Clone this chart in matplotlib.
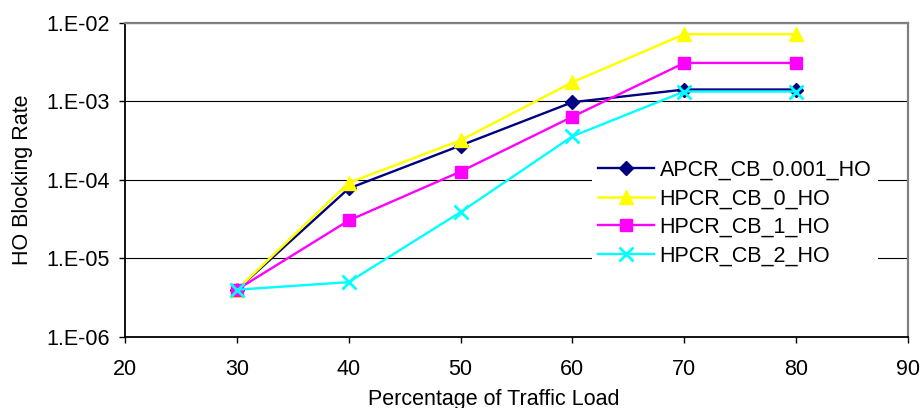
import matplotlib
matplotlib.use("Agg")
import matplotlib.pyplot as plt
import numpy as np

plt.rcParams['font.family'] = ['Liberation Sans', 'DejaVu Sans']

# data
load = [30, 40, 50, 60, 70, 80]
apcr_cb_0001 = [4.0e-6, 7.8e-5, 2.75e-4, 9.8e-4, 1.42e-3, 1.42e-3]
hpcr_cb_0 = [4.0e-6, 9.2e-5, 3.2e-4, 1.76e-3, 7.2e-3, 7.2e-3]
hpcr_cb_1 = [4.0e-6, 3.05e-5, 1.28e-4, 6.4e-4, 3.1e-3, 3.1e-3]
hpcr_cb_2 = [4.0e-6, 5.0e-6, 3.9e-5, 3.6e-4, 1.34e-3, 1.34e-3]

xticks = [20, 30, 40, 50, 60, 70, 80, 90]
yticks = [1e-6, 1e-5, 1e-4, 1e-3, 1e-2]
ytick_labels = ["1.E-06", "1.E-05", "1.E-04", "1.E-03", "1.E-02"]

FS = 15.5

fig = plt.figure(figsize=(9.22, 4.08), dpi=100)
ax = fig.add_axes([125 / 922, 1 - 337 / 408, 783 / 922, 314 / 408])

ax.plot(load, apcr_cb_0001, color="#000080", lw=1.7, marker="D", ms=7, label="APCR_CB_0.001_HO")
ax.plot(load, hpcr_cb_0, color="#FFFF00", lw=1.8, marker="^", ms=10, label="HPCR_CB_0_HO")
ax.plot(load, hpcr_cb_1, color="#FF00FF", lw=1.7, marker="s", ms=9, label="HPCR_CB_1_HO")
ax.plot(load, hpcr_cb_2, color="#00FFFF", lw=1.7, marker="x", ms=10, mew=2, label="HPCR_CB_2_HO")

ax.set_yscale("log")
ax.set_xlim(20, 90)
ax.set_ylim(1e-6, 1e-2)
ax.set_xticks(xticks)
ax.set_yticks(yticks)
ax.set_yticklabels(ytick_labels)
ax.yaxis.set_minor_locator(matplotlib.ticker.NullLocator())
ax.tick_params(axis="both", direction="out", length=4, width=1, labelsize=FS, colors="black")
ax.tick_params(axis="y", pad=7)
ax.tick_params(axis="x", pad=12)
ax.grid(axis="y", which="major", color="black", lw=0.8)
ax.set_axisbelow(True)

for side in ["left", "bottom"]:
    ax.spines[side].set_color("black")
    ax.spines[side].set_linewidth(1.3)
for side in ["top", "right"]:
    ax.spines[side].set_color("#808080")
    ax.spines[side].set_linewidth(1.6)

ax.set_xlabel("Percentage of Traffic Load", fontsize=FS)
ax.set_ylabel("HO Blocking Rate", fontsize=FS)
ax.xaxis.set_label_coords(0.471, -0.165)
ax.yaxis.set_label_coords(-0.117, 0.5)

leg = ax.legend(loc="upper left", bbox_to_anchor=(0.596, 0.585), borderaxespad=0,
                frameon=True, fancybox=False, framealpha=1, edgecolor="none",
                facecolor="white", fontsize=FS, handlelength=2.6,
                handletextpad=0.25, labelspacing=0.35, borderpad=0.3)

fig.savefig("out.png", dpi=100)
